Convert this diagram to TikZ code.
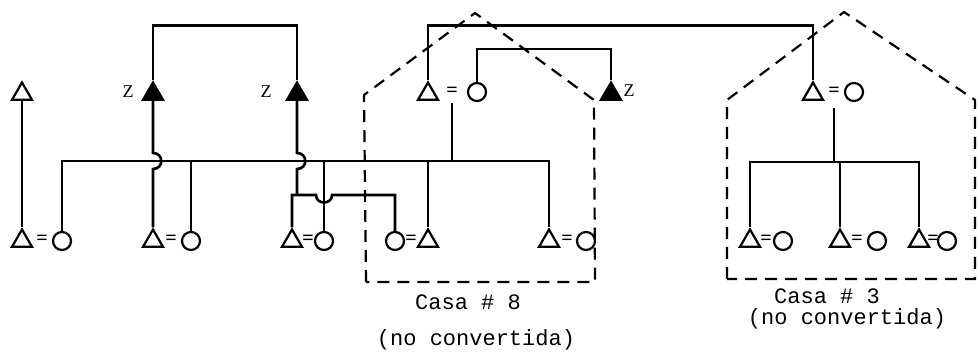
\documentclass[tikz,border=0pt]{standalone}
\usepackage{fontspec}
\setmainfont{Liberation Serif}
\setmonofont{Liberation Mono}
\usetikzlibrary{shapes.geometric}
\tikzset{
  hombre/.style={regular polygon, regular polygon sides=3, draw, line width=2.2pt, minimum size=23pt, inner sep=0pt},
  hombrez/.style={hombre, fill=black},
  mujer/.style={circle, draw, line width=2.2pt, minimum size=18pt, inner sep=0pt},
  igual/.style={font=\fontsize{20}{20}\selectfont\bfseries, inner sep=0pt},
  linea/.style={line width=2.6pt},
  casa/.style={line width=2.2pt, dash pattern=on 12pt off 8pt},
  rotulo/.style={font=\fontsize{22}{22}\selectfont\ttfamily, inner sep=0pt},
  zeta/.style={font=\fontsize{18}{18}\selectfont, inner sep=0pt},
}
\begin{document}
\begin{tikzpicture}[x=1pt, y=-1pt]
        \useasboundingbox (0,0) rectangle (978,352);

        % Casas (tenues, discontinuas)
        \draw[casa] (366,282) -- (364,95) -- (475,13) -- (594,100) -- (595,282) -- cycle;
        \draw[casa] (727,279) -- (727,100) -- (844,12) -- (975,100) -- (975,279) -- cycle;

        % Fila de abajo
        \node[hombre] (a1) at (22,241) {};
        \node[igual] (ea) at (42,240) {=};
        \node[mujer] (a2) at (62,241) {};
        \node[hombre] (b1) at (153,241) {};
        \node[igual] (eb) at (171,240) {=};
        \node[mujer] (b2) at (191,241) {};
        \node[hombre] (c1) at (292,241) {};
        \node[igual] (ec) at (308,240) {=};
        \node[mujer] (c2) at (324,241) {};
        \node[mujer] (d1) at (395,241) {};
        \node[igual] (ed) at (411,240) {=};
        \node[hombre] (d2) at (428,241) {};
        \node[hombre] (g1) at (549,241) {};
        \node[igual] (eg) at (567,240) {=};
        \node[mujer] (g2) at (586,241) {};
        \node[hombre] (h1) at (750,241) {};
        \node[igual] (eh) at (766,240) {=};
        \node[mujer] (h2) at (783,241) {};
        \node[hombre] (i1) at (840,241) {};
        \node[igual] (ei) at (857,240) {=};
        \node[mujer] (i2) at (877,241) {};
        \node[hombre] (j1) at (919,241) {};
        \node[igual] (ej) at (933,240) {=};
        \node[mujer] (j2) at (947,241) {};

        % Fila de arriba
        \node[hombre] (a0) at (22,94) {};
        \node[hombrez] (zb) at (153,94) {};
        \node[zeta] (lzb) at (128,92) {Z};
        \node[hombrez] (zc) at (297,94) {};
        \node[zeta] (lzc) at (266,92) {Z};
        \node[hombre] (e1) at (428,94) {};
        \node[igual] (ee) at (452,92) {=};
        \node[mujer] (e2) at (477,92) {};
        \node[hombrez] (ze) at (611,94) {};
        \node[zeta] (lze) at (629,91) {Z};
        \node[hombre] (f1) at (813,94) {};
        \node[igual] (ef) at (834,92) {=};
        \node[mujer] (f2) at (854,92) {};

        % Lineas de hermanos
        \coordinate (s2) at (549,161);
        \coordinate (s3) at (919,162);
        \coordinate (r1) at (395,195);

        \draw[linea] (a1.north) -- (a0.south);
        \draw[linea] (a2.north) |- (s2) -- (g1.north);
        \draw[linea] (b2.north) -- (b2.north |- s2);
        \draw[linea] (c2.north) -- (c2.north |- s2);
        \draw[linea] (d2.north) -- (d2.north |- s2);
        \draw[linea] ([yshift=-11pt]ee.center) -- (ee.center |- s2);

        % Saltos
        \draw[linea] (b1.north) -- (153,169) .. controls (164,169) and (164,153) .. (153,153) -- (zb.south);
        \draw[linea] (zc.south) -- (297,153) .. controls (308,153) and (308,169) .. (297,169) -- (297,195);
        \draw[linea] (c1.north) |- (316,195) .. controls (316,205) and (332,205) .. (332,195) -- (r1) -- (d1.north);

        % Padres
        \draw[linea] (zb.north) -- ++(0,-55) -| (zc.north);
        \draw[linea] (e1.north) -- ++(0,-55) -| (f1.north);
        \draw[linea] (e2.north) -- ++(0,-33) -| (ze.north);

        % Casa 3 adentro
        \draw[linea] ([yshift=-16pt]ef.center) -- (ef.center |- s3);
        \draw[linea] (h1.north) |- (s3) -- (j1.north);
        \draw[linea] (i1.north) -- (i1.north |- s3);

        % Rotulos
        \node[rotulo] (casa8) at (468,302) {Casa \# 8};
        \node[rotulo] (nc8) at (476,340) {(no convertida)};
        \node[rotulo] (casa3) at (827,296) {Casa \# 3};
        \node[rotulo] (nc3) at (847,319) {(no convertida)};
    \end{tikzpicture}
\end{document}
